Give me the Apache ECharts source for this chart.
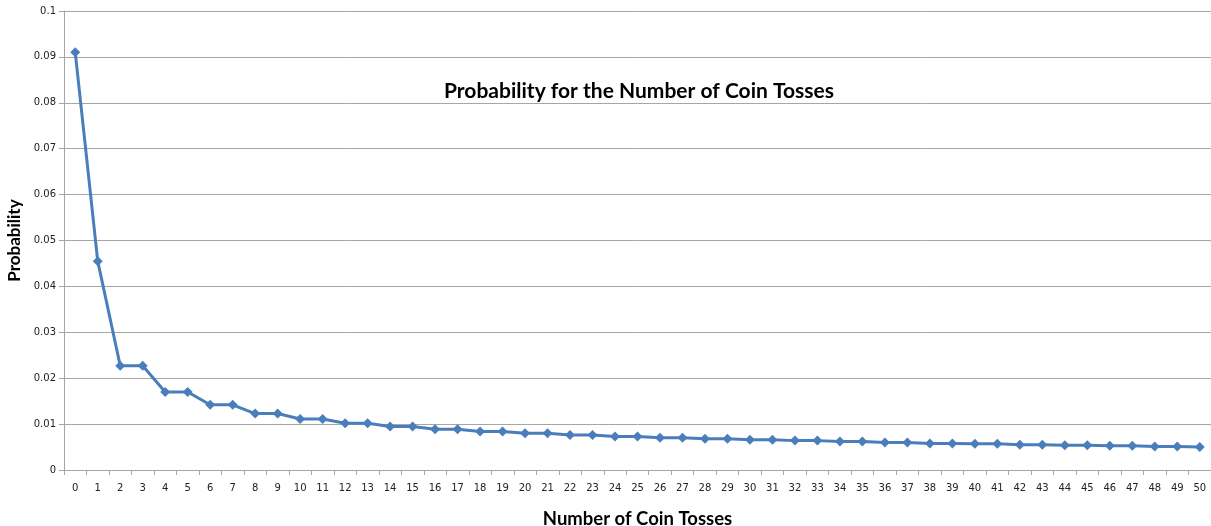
<!DOCTYPE html>
<html>
<head>
<meta charset="utf-8">
<script src="https://cdn.jsdelivr.net/npm/echarts@6/dist/echarts.min.js"></script>
<style>
  html, body { margin: 0; padding: 0; background: #ffffff; }
  #chart { width: 1211px; height: 526px; }
</style>
</head>
<body>
<div id="chart"></div>
<script>
// Number of coin tosses (0..50)
const tosses = Array.from({ length: 51 }, (_, i) => String(i));

// Probability for each number of tosses
const probability = [
  0.0910, 0.0455, 0.0227, 0.0227, 0.0170, 0.0170, 0.0142, 0.0142, 0.0123, 0.0123,
  0.0111, 0.0111, 0.0102, 0.0102, 0.0095, 0.0095, 0.0089, 0.0089, 0.0084, 0.0084,
  0.0080, 0.0080, 0.0076, 0.0076, 0.0073, 0.0073, 0.0070, 0.0070, 0.0068, 0.0068,
  0.0066, 0.0066, 0.0064, 0.0064, 0.0062, 0.0062, 0.0060, 0.0060, 0.0058, 0.0058,
  0.0057, 0.0057, 0.0055, 0.0055, 0.0054, 0.0054, 0.0053, 0.0053, 0.0051, 0.0051,
  0.0050
];

const chart = echarts.init(document.getElementById('chart'), null, { renderer: 'canvas' });

chart.setOption({
  animation: false,
  backgroundColor: '#ffffff',
  title: {
    text: 'Probability for the Number of Coin Tosses',
    left: 634,
    textAlign: 'center',
    top: 76,
    textStyle: {
      fontFamily: 'Lato, "Open Sans", sans-serif',
      fontWeight: 'bold',
      fontSize: 21,
      color: '#000000'
    }
  },
  grid: { left: 64, right: 0, top: 11, bottom: 56, containLabel: false, outerBoundsMode: 'none' },
  xAxis: {
    type: 'category',
    data: tosses,
    boundaryGap: true,
    name: 'Number of Coin Tosses',
    nameLocation: 'middle',
    nameGap: 40,
    nameTextStyle: {
      fontFamily: 'Lato, "Open Sans", sans-serif',
      fontWeight: 'bold',
      fontSize: 18.5,
      color: '#000000'
    },
    axisLine: { lineStyle: { color: '#a6a6a6', width: 1 } },
    axisTick: { show: true, length: 5, lineStyle: { color: '#a6a6a6' } },
    axisLabel: {
      margin: 13,
      fontFamily: '"DejaVu Sans", sans-serif',
      fontSize: 10,
      color: '#222222'
    },
    splitLine: { show: false }
  },
  yAxis: {
    type: 'value',
    min: 0,
    max: 0.1,
    interval: 0.01,
    name: 'Probability',
    nameLocation: 'middle',
    nameGap: 40,
    nameTextStyle: {
      fontFamily: 'Lato, "Open Sans", sans-serif',
      fontWeight: 'bold',
      fontSize: 17,
      color: '#000000'
    },
    axisLine: { show: true, lineStyle: { color: '#a6a6a6', width: 1 } },
    axisTick: { show: true, length: 5, lineStyle: { color: '#a6a6a6' } },
    axisLabel: {
      margin: 8,
      fontFamily: '"DejaVu Sans", sans-serif',
      fontSize: 10,
      color: '#222222',
      formatter: v => String(parseFloat(v.toFixed(2)))
    },
    splitLine: { show: true, lineStyle: { color: '#a6a6a6', width: 1 } }
  },
  series: [{
    type: 'line',
    data: probability,
    symbol: 'diamond',
    symbolSize: 10,
    showAllSymbol: true,
    lineStyle: { color: '#4a7ebb', width: 3 },
    itemStyle: { color: '#4a7ebb' }
  }]
});
</script>
</body>
</html>
